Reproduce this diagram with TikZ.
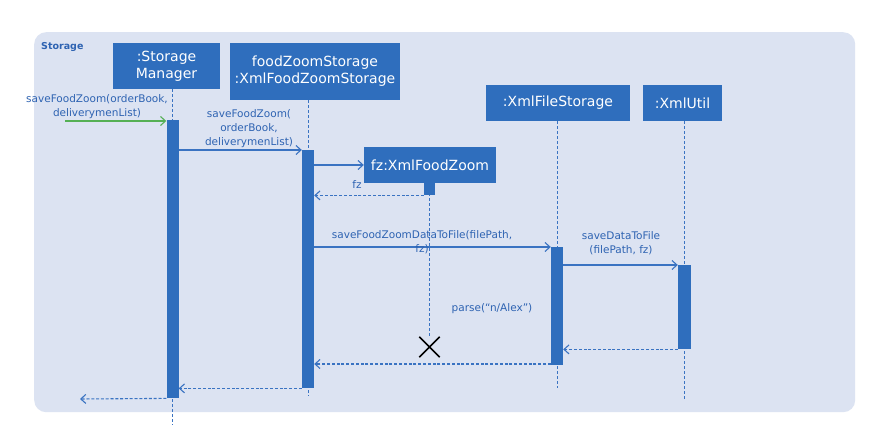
\documentclass[tikz,border=0pt]{standalone}
\usepackage{fontspec}
\setmainfont{DejaVu Sans}
\usetikzlibrary{arrows.meta,positioning,calc}
\definecolor{boxblue}{HTML}{2F6EBD}
\definecolor{framefill}{HTML}{DCE3F2}
\definecolor{txtblue}{HTML}{2E63B2}
\definecolor{lineblue}{HTML}{3A73C2}
\definecolor{msggreen}{HTML}{55B055}
\tikzset{
  actor/.style={draw=none, fill=boxblue, text=white, font=\fontsize{14}{17}\selectfont, align=center, inner sep=0pt},
  act/.style={draw=none, fill=boxblue, minimum width=12pt, inner sep=0pt, anchor=north},
  lifeline/.style={draw=lineblue, line width=1pt, dash pattern=on 3pt off 2pt},
  msg/.style={draw=lineblue, line width=1.1pt, -{Straight Barb[length=5pt,width=9pt,line width=1.1pt]}},
  ret/.style={msg, dash pattern=on 3pt off 1.8pt},
  lbl/.style={text=txtblue, font=\fontsize{10.5}{14}\selectfont, align=center, inner sep=0pt},
}
\begin{document}
\begin{tikzpicture}[x=1pt,y=-1pt]
\useasboundingbox (0,0) rectangle (892,443);
\fill[white] (0,0) rectangle (892,443);
% frame
\node[draw=none, fill=framefill, rounded corners=12pt, minimum width=821pt, minimum height=380pt, anchor=north west, inner sep=0pt] (frame) at (34,32) {};
\node[anchor=west, text=txtblue, font=\bfseries\fontsize{9.5}{11}\selectfont, inner sep=0pt] (flabel) at (41,47) {Storage};
% actors
\node[actor, minimum width=107pt, minimum height=46pt] (sm) at (166.5,66) {:Storage\\Manager};
\node[actor, minimum width=170pt, minimum height=57pt] (fzs) at (315,71.5) {foodZoomStorage\\:XmlFoodZoomStorage};
\node[actor, minimum width=132pt, minimum height=36pt] (fz) at (430,165) {fz:XmlFoodZoom};
\node[actor, minimum width=144pt, minimum height=36pt] (xfs) at (558,103) {:XmlFileStorage};
\node[actor, minimum width=79pt, minimum height=36pt] (xu) at (682.5,103) {:XmlUtil};
% lifeline end points
\coordinate (smend) at (172.5,425);
\coordinate (fzsend) at (308,396);
\coordinate (fzend) at (429.5,338);
\coordinate (xfsend) at (557,388);
\coordinate (xuend) at (684.5,400);
\draw[lifeline] (sm.south -| smend) -- (smend);
\draw[lifeline] (fzs.south -| fzsend) -- (fzsend);
\draw[lifeline] (fz.south -| fzend) -- (fzend);
\draw[lifeline] (xfs.south -| xfsend) -- (xfsend);
\draw[lifeline] (xu.south -| xuend) -- (xuend);
% activations
\node[act, minimum height=278pt] (smact) at (172.5,120) {};
\node[act, minimum height=238pt] (fzsact) at (308,150) {};
\node[act, minimum width=11pt, minimum height=12pt] (fzact) at (429.5,183) {};
\node[act, minimum height=118pt] (xfsact) at (557,247) {};
\node[act, minimum height=84pt, minimum width=13pt] (xuact) at (684.5,265) {};
% messages
\coordinate (inStart) at (65,121);
\draw[msg, draw=msggreen] (inStart) -- (smact.north west |- inStart);
\node[lbl] (l1) at (97,107) {saveFoodZoom(orderBook,\\deliverymenList)};
\draw[msg] (smact.east |- fzsact.north) -- (fzsact.north west);
\node[lbl] (l2) at (249,129) {saveFoodZoom(\\orderBook,\\deliverymenList)};
\draw[msg] (fzsact.east |- fz.west) -- (fz.west);
\draw[ret] (fzact.south west) -- (fzsact.east |- fzact.south);
\node[lbl] (l3) at (357,185) {fz};
\draw[msg] (fzsact.east |- xfsact.north) -- (xfsact.north west);
\node[lbl] (l4) at (422,242) {saveFoodZoomDataToFile(filePath,\\fz)};
\draw[msg] (xfsact.east |- xuact.north) -- (xuact.north west);
\node[lbl] (l5) at (621,243) {saveDataToFile\\(filePath, fz)};
\node[lbl] (l6) at (492,309) {parse(“n/Alex”)};
\draw[ret] (xuact.south west) -- (xfsact.east |- xuact.south);
\coordinate (r8) at (557,364);
\draw[ret] (xfsact.west |- r8) -- (fzsact.east |- r8);
\draw[ret] (fzsact.south west) -- (smact.east |- fzsact.south);
\coordinate (outEnd) at (80,399);
\draw[ret] (smact.south west) -- (outEnd);
% destruction
\node[inner sep=0pt, minimum size=20pt] (xmark) at (429.5,347) {};
\draw[black, line width=1.6pt] (xmark.north west) -- (xmark.south east) (xmark.north east) -- (xmark.south west);
\end{tikzpicture}
\end{document}
